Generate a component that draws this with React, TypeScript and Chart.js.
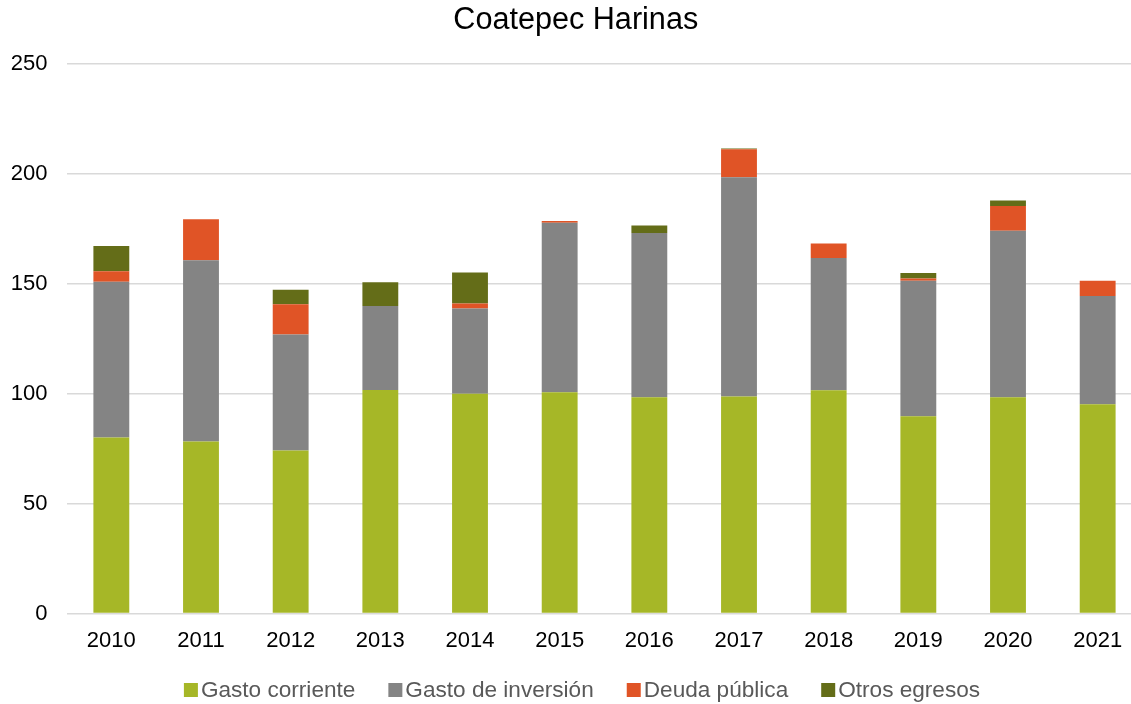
import React, { useEffect, useRef } from "react";
import { Chart, registerables } from "chart.js";

Chart.register(...registerables);

const years = ["2010", "2011", "2012", "2013", "2014", "2015", "2016", "2017", "2018", "2019", "2020", "2021"];
const gastoCorriente = [80.1, 78.3, 74.1, 101.7, 99.9, 100.6, 98.4, 98.7, 101.5, 89.7, 98.4, 95.2];
const gastoInversion = [70.8, 82.3, 52.8, 38.1, 38.8, 77.1, 74.6, 99.7, 60.2, 61.6, 75.7, 49.2];
const deudaPublica = [4.7, 18.7, 13.8, 0, 2.3, 0.8, 0, 12.7, 6.6, 1.1, 11.2, 6.9];
const otrosEgresos = [11.5, 0, 6.5, 10.9, 14.1, 0, 3.4, 0.3, 0, 2.4, 2.5, 0];

const seriesLabels = ["Gasto corriente", "Gasto de inversión", "Deuda pública", "Otros egresos"];
const seriesColors = ["#A6B727", "#848484", "#E05426", "#646D18"];
const titleText = "Coatepec Harinas";
const yMin = 0;
const yMax = 250;
const yStep = 50;

const FONT = '"Liberation Sans", Arial, sans-serif';

const bottomLegend = {
  id: "bottomLegend",
  afterDraw(chart: any) {
    const { ctx } = chart;
    ctx.save();
    ctx.font = `22.6px ${FONT}`;
    ctx.textBaseline = "middle";
    ctx.textAlign = "left";
    const box = 14;
    const gap = 3;
    const spacing = 33;
    const items = chart.data.datasets.map((d: any) => ({
      label: d.label as string,
      color: d.backgroundColor as string,
      w: ctx.measureText(d.label).width,
    }));
    const total =
      items.reduce((s: number, it: any) => s + box + gap + it.w, 0) + spacing * (items.length - 1);
    let x = 582 - total / 2;
    const cy = 690;
    for (const it of items) {
      ctx.fillStyle = it.color;
      ctx.fillRect(x, cy - box / 2, box, box);
      x += box + gap;
      ctx.fillStyle = "#595959";
      ctx.fillText(it.label, x, cy + 1);
      x += it.w + spacing;
    }
    ctx.restore();
  },
};

export default function App() {
  const canvasRef = useRef<HTMLCanvasElement | null>(null);

  useEffect(() => {
    if (!canvasRef.current) return;
    const series = [gastoCorriente, gastoInversion, deudaPublica, otrosEgresos];
    const chart = new Chart(canvasRef.current, {
      type: "bar",
      data: {
        labels: years,
        datasets: series.map((data, i) => ({
          label: seriesLabels[i],
          data,
          backgroundColor: seriesColors[i],
          borderWidth: 0,
          barPercentage: 0.4,
          categoryPercentage: 1.0,
        })),
      },
      options: {
        responsive: false,
        animation: false,
        devicePixelRatio: 1,
        layout: { padding: { left: 9, right: 9.5, top: 0, bottom: 36 } },
        plugins: {
          legend: { display: false },
          tooltip: { enabled: false },
          title: {
            display: true,
            text: titleText,
            color: "#000000",
            font: { family: FONT, size: 30.6, weight: "normal", lineHeight: 1.2 },
            padding: { top: 2, bottom: 25 },
          },
        },
        scales: {
          x: {
            stacked: true,
            grid: { display: false, drawTicks: false },
            border: { display: false },
            ticks: {
              color: "#000000",
              font: { family: FONT, size: 22, lineHeight: 1.2 },
              padding: 14,
              maxRotation: 0,
              autoSkip: false,
            },
          },
          y: {
            stacked: true,
            min: yMin,
            max: yMax,
            grid: { color: "#d9d9d9", lineWidth: 1.5, drawTicks: false },
            border: { display: false },
            ticks: {
              stepSize: yStep,
              color: "#000000",
              font: { family: FONT, size: 22, lineHeight: 1.2 },
              padding: 19,
            },
            afterFit: (scale: any) => {
              scale.width = 57.5;
            },
          },
        },
      },
      plugins: [bottomLegend],
    });
    return () => chart.destroy();
  }, []);

  return (
    <div
      style={{
        position: "fixed",
        left: 0,
        top: 0,
        width: "100vw",
        height: "100vh",
        overflow: "hidden",
        background: "#ffffff",
      }}
    >
      <canvas ref={canvasRef} width={1152} height={704} style={{ display: "block" }} />
    </div>
  );
}
